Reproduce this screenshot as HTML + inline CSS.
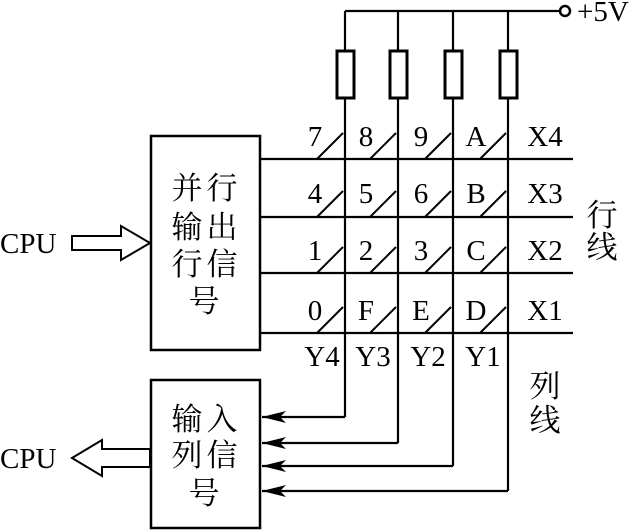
<!DOCTYPE html>
<html><head><meta charset="utf-8"><style>
html,body{margin:0;padding:0;background:#fff;}
svg{display:block;}
text{font-family:"Liberation Serif","Noto Serif CJK SC",serif;fill:#000;}
.c{font-family:"Liberation Serif","Noto Serif CJK SC",serif;}
</style></head><body>
<svg width="635" height="532" viewBox="0 0 635 532" xmlns="http://www.w3.org/2000/svg">
<g stroke="#000" stroke-width="2.2" fill="none">
 <line x1="345" y1="11" x2="560" y2="11"/>
 <circle cx="565" cy="11" r="5" stroke-width="2.5"/>
 <line x1="345" y1="11" x2="345" y2="417"/>
 <line x1="398" y1="11" x2="398" y2="443"/>
 <line x1="453" y1="11" x2="453" y2="466"/>
 <line x1="508" y1="11" x2="508" y2="491"/>
 <line x1="345" y1="417" x2="262" y2="417"/>
 <line x1="398" y1="443" x2="262" y2="443"/>
 <line x1="453" y1="466" x2="262" y2="466"/>
 <line x1="508" y1="491" x2="262" y2="491"/>
 <line x1="260" y1="159" x2="573" y2="159"/>
 <line x1="260" y1="217" x2="573" y2="217"/>
 <line x1="260" y1="273" x2="573" y2="273"/>
 <line x1="260" y1="333" x2="573" y2="333"/>
 <rect x="151" y="136" width="109" height="214" stroke-width="2.5"/>
 <rect x="151" y="380" width="109" height="148" stroke-width="2.5"/>
 <polygon points="72,236 121,236 121,226 150,243 121,260 121,250 72,250" stroke-width="2"/>
 <polygon points="72,458 102,440 102,449 150,449 150,467 102,467 102,476" stroke-width="2"/>
</g>
<g stroke="#000" stroke-width="3" fill="#fff">
 <rect x="337" y="51" width="17" height="47"/>
 <rect x="390" y="51" width="17" height="47"/>
 <rect x="445" y="51" width="17" height="47"/>
 <rect x="500" y="51" width="17" height="47"/>
</g>
<g stroke="#000" stroke-width="2">
 <path d="M317 159 L343 133 M370 159 L396 133 M425 159 L451 133 M480 159 L506 133"/>
 <path d="M317 217 L343 191 M370 217 L396 191 M425 217 L451 191 M480 217 L506 191"/>
 <path d="M317 273 L343 247 M370 273 L396 247 M425 273 L451 247 M480 273 L506 247"/>
 <path d="M317 333 L343 307 M370 333 L396 307 M425 333 L451 307 M480 333 L506 307"/>
</g>
<g fill="#000">
 <polygon points="262,417 286,411 280,417 286,423"/>
 <polygon points="262,443 286,437 280,443 286,449"/>
 <polygon points="262,466 286,460 280,466 286,472"/>
 <polygon points="262,491 286,485 280,491 286,497"/>
</g>
<g font-size="29" text-anchor="middle">
 <text x="315" y="146">7</text><text x="366" y="146">8</text><text x="421" y="146">9</text><text x="476" y="146">A</text><text x="545" y="146">X4</text>
 <text x="315" y="203">4</text><text x="366" y="203">5</text><text x="421" y="203">6</text><text x="476" y="203">B</text><text x="545" y="203">X3</text>
 <text x="315" y="260">1</text><text x="366" y="260">2</text><text x="421" y="260">3</text><text x="476" y="260">C</text><text x="545" y="260">X2</text>
 <text x="315" y="320">0</text><text x="366" y="320">F</text><text x="421" y="320">E</text><text x="476" y="320">D</text><text x="545" y="320">X1</text>
 <text x="322" y="366">Y4</text><text x="373" y="366">Y3</text><text x="428" y="366">Y2</text><text x="483" y="366">Y1</text>
</g>
<text x="577" y="21" font-size="29">+5V</text>
<text x="0" y="253" font-size="29">CPU</text>
<text x="0" y="468" font-size="29">CPU</text>
<g class="c" font-size="31" text-anchor="middle">
 <text x="187" y="199">并</text><text x="222" y="199">行</text>
 <text x="187" y="238">输</text><text x="222" y="238">出</text>
 <text x="187" y="275">行</text><text x="222" y="275">信</text>
 <text x="204" y="312">号</text>
 <text x="187" y="430">输</text><text x="222" y="430">入</text>
 <text x="187" y="466">列</text><text x="222" y="466">信</text>
 <text x="204" y="504">号</text>
 <text x="602" y="226">行</text><text x="602" y="258">线</text>
 <text x="545" y="397">列</text><text x="545" y="431">线</text>
</g>
</svg>
</body></html>
